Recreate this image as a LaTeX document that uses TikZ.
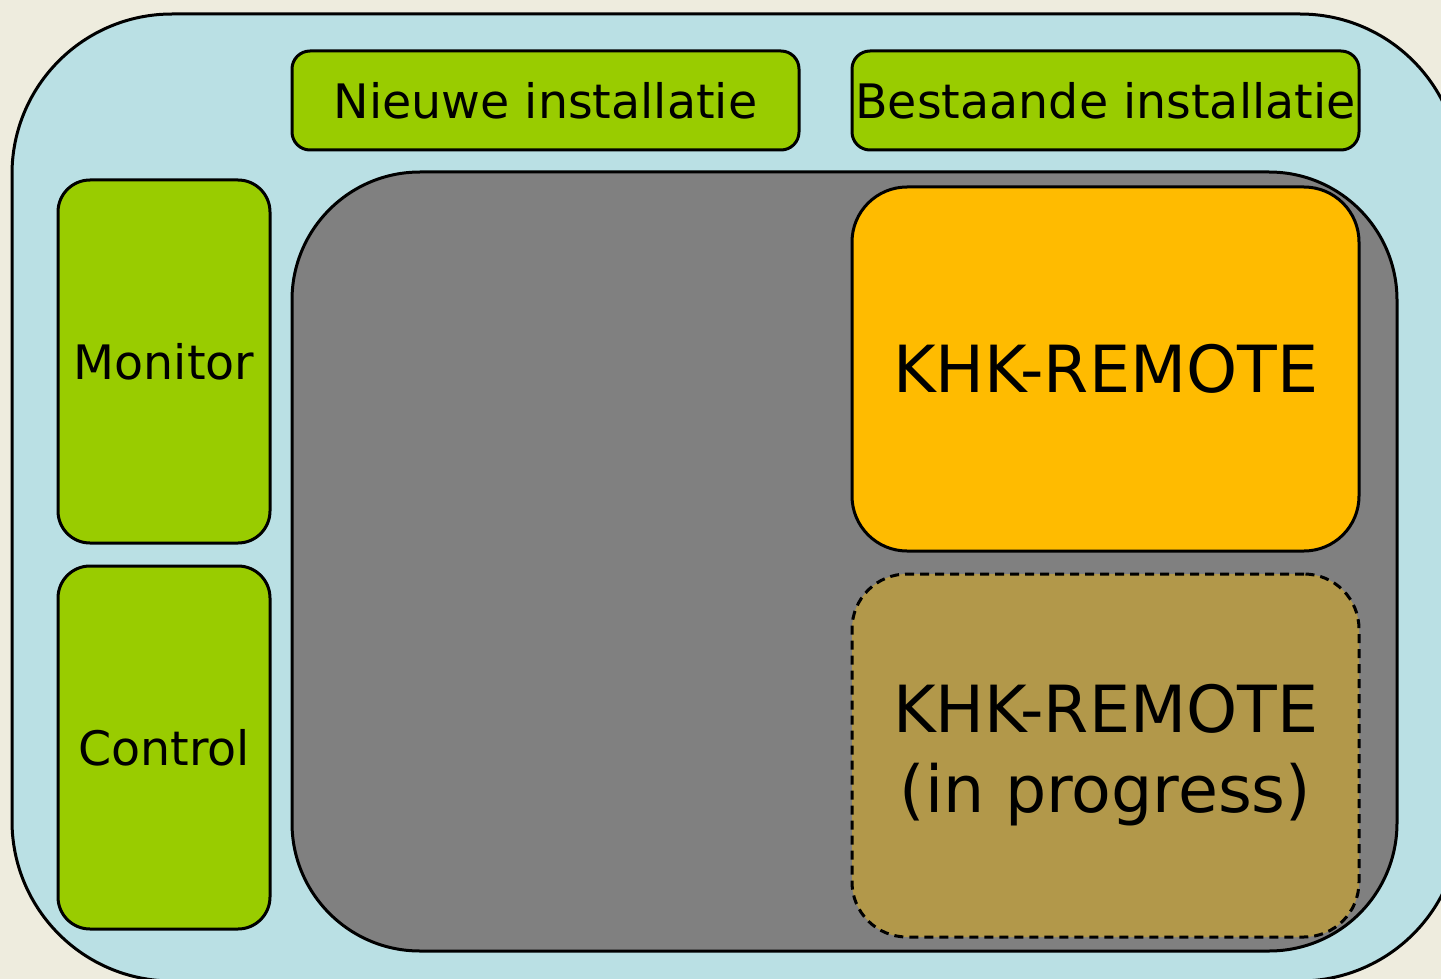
\documentclass[tikz,border=0pt]{standalone}
\usepackage{fontspec}
\setmainfont{DejaVu Sans}
\definecolor{cream}{RGB}{238,236,222}
\definecolor{paleblue}{RGB}{186,224,228}
\definecolor{limegreen}{RGB}{153,204,0}
\definecolor{amber}{RGB}{255,187,0}
\definecolor{midgray}{RGB}{128,128,128}
\definecolor{mudamber}{RGB}{178,152,74}

\begin{document}
\begin{tikzpicture}[x=1pt,y=-1pt,
  box/.style={draw,line width=3pt,inner sep=0pt,align=center},
  small/.style={box,fill=limegreen,font=\fontsize{47.5}{57}\selectfont},
  big/.style={box,font=\fontsize{65}{80}\selectfont}]
  \fill[cream] (0,0) rectangle (1441,979);
  \useasboundingbox (0,0) rectangle (1441,979);
  \clip (0,0) rectangle (1441,979);
  \node[box,fill=paleblue,rounded corners=160pt,minimum width=1448pt,minimum height=967pt] (frame) at (736,497.5) {};
  \node[box,fill=midgray,rounded corners=128pt,minimum width=1105pt,minimum height=779pt] (core) at (844.5,561.5) {};
  \node[small,rounded corners=18pt,minimum width=507pt,minimum height=99pt] (new) at (545.5,100.5) {Nieuwe installatie};
  \node[small,rounded corners=18pt,minimum width=507pt,minimum height=99pt] (old) at (1105.5,100.5) {Bestaande installatie};
  \node[small,rounded corners=32pt,minimum width=212pt,minimum height=363pt] (monitor) at (164,361.5) {Monitor};
  \node[small,rounded corners=32pt,minimum width=212pt,minimum height=363pt] (control) at (164,747.5) {Control};
  \node[big,fill=amber,rounded corners=55pt,minimum width=507pt,minimum height=364pt] (remote) at (1105.5,369) {KHK-REMOTE};
  \node[big,fill=mudamber,dashed,dash pattern=on 9pt off 6pt,rounded corners=55pt,minimum width=507pt,minimum height=363pt] (progress) at (1105.5,755.5) {KHK-REMOTE\\(in progress)};
\end{tikzpicture}
\end{document}
